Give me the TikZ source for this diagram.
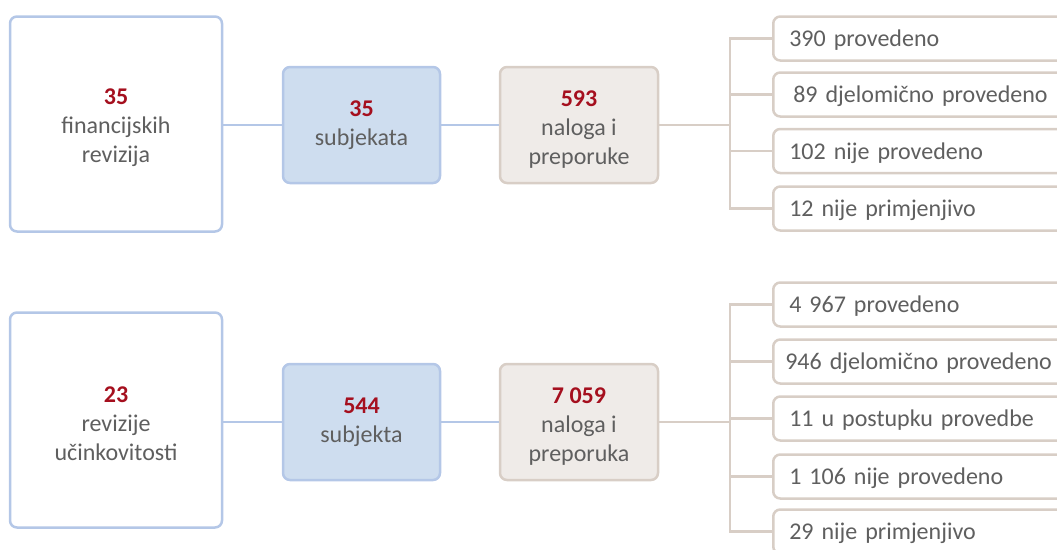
\documentclass[tikz,border=0pt]{standalone}
\usepackage{fontspec}
\setmainfont{Carlito}
\definecolor{bblue}{HTML}{B4C7E7}
\definecolor{lblue}{HTML}{CEDDEF}
\definecolor{beige}{HTML}{D8CEC6}
\definecolor{lbeige}{HTML}{EFEBE8}
\definecolor{txtgray}{HTML}{5F5F5F}
\definecolor{numred}{HTML}{A50F1E}
\newcommand\bignum[1]{{\bfseries\color{numred}#1}}
\newcommand\topstrut{\rule{0pt}{24pt}}
\begin{document}
\begin{tikzpicture}[x=1pt,y=-1pt,
  box/.style={rounded corners=7pt, line width=2.5pt, font=\fontsize{24}{29}\selectfont, text=txtgray, align=center, inner sep=0pt},
  bigbox/.style={box, draw=bblue, fill=white, minimum width=212pt, minimum height=215pt},
  subbox/.style={box, draw=bblue, fill=lblue, minimum width=157pt, minimum height=116pt},
  recbox/.style={box, draw=beige, fill=lbeige, minimum width=158pt, minimum height=116pt},
  outbox/.style={box, draw=beige, fill=white, minimum height=44pt, anchor=west, align=left, text width=264pt, inner xsep=16pt, text depth=0pt, text height=16pt},
  blueline/.style={draw=bblue, line width=2.5pt},
  beigeline/.style={draw=beige, line width=2.5pt}]
\useasboundingbox (0,0) rectangle (1057,549);
\clip (0,0) rectangle (1057,549);
% top row
\node[bigbox] (a1) at (116,124) {\topstrut\bignum{35}\\financijskih\\revizija};
\node[subbox] (b1) at (361.5,125) {\bignum{35}\\subjekata};
\node[recbox] (c1) at (579,125) {\topstrut\bignum{593}\\naloga i\\preporuke};
\coordinate (br1) at (730,125);
\node[outbox] (r11) at (772,38.5) {390 provedeno};
\node[outbox] (r12) at (772,94.5) {\,89 djelomično provedeno};
\node[outbox] (r13) at (772,151) {102 nije provedeno};
\node[outbox] (r14) at (772,208.5) {12 nije primjenjivo};
\draw[blueline] (a1.east |- b1.west) -- (b1.west);
\draw[blueline] (b1.east) -- (c1.west);
\draw[beigeline] (c1.east) -- (br1);
\foreach \r in {r11,r12,r13,r14} \draw[beigeline] (\r.west) -| (br1);
% bottom row
\node[bigbox] (a2) at (116,420) {\topstrut\bignum{23}\\revizije\\učinkovitosti};
\node[subbox] (b2) at (361.5,422) {\bignum{544}\\subjekta};
\node[recbox] (c2) at (579,422) {\topstrut\bignum{7 059}\\naloga i\\preporuka};
\coordinate (br2) at (730,422);
\node[outbox] (r21) at (772,304.5) {4 967 provedeno};
\node[outbox] (r22) at (772,361.5) {\hspace{-4pt}946 djelomično provedeno};
\node[outbox] (r23) at (772,418.5) {11 u postupku provedbe};
\node[outbox] (r24) at (772,476.5) {1 106 nije provedeno};
\node[outbox] (r25) at (772,531.5) {29 nije primjenjivo};
\draw[blueline] (a2.east |- b2.west) -- (b2.west);
\draw[blueline] (b2.east) -- (c2.west);
\draw[beigeline] (c2.east) -- (br2);
\foreach \r in {r21,r22,r23,r24,r25} \draw[beigeline] (\r.west) -| (br2);
\end{tikzpicture}
\end{document}
